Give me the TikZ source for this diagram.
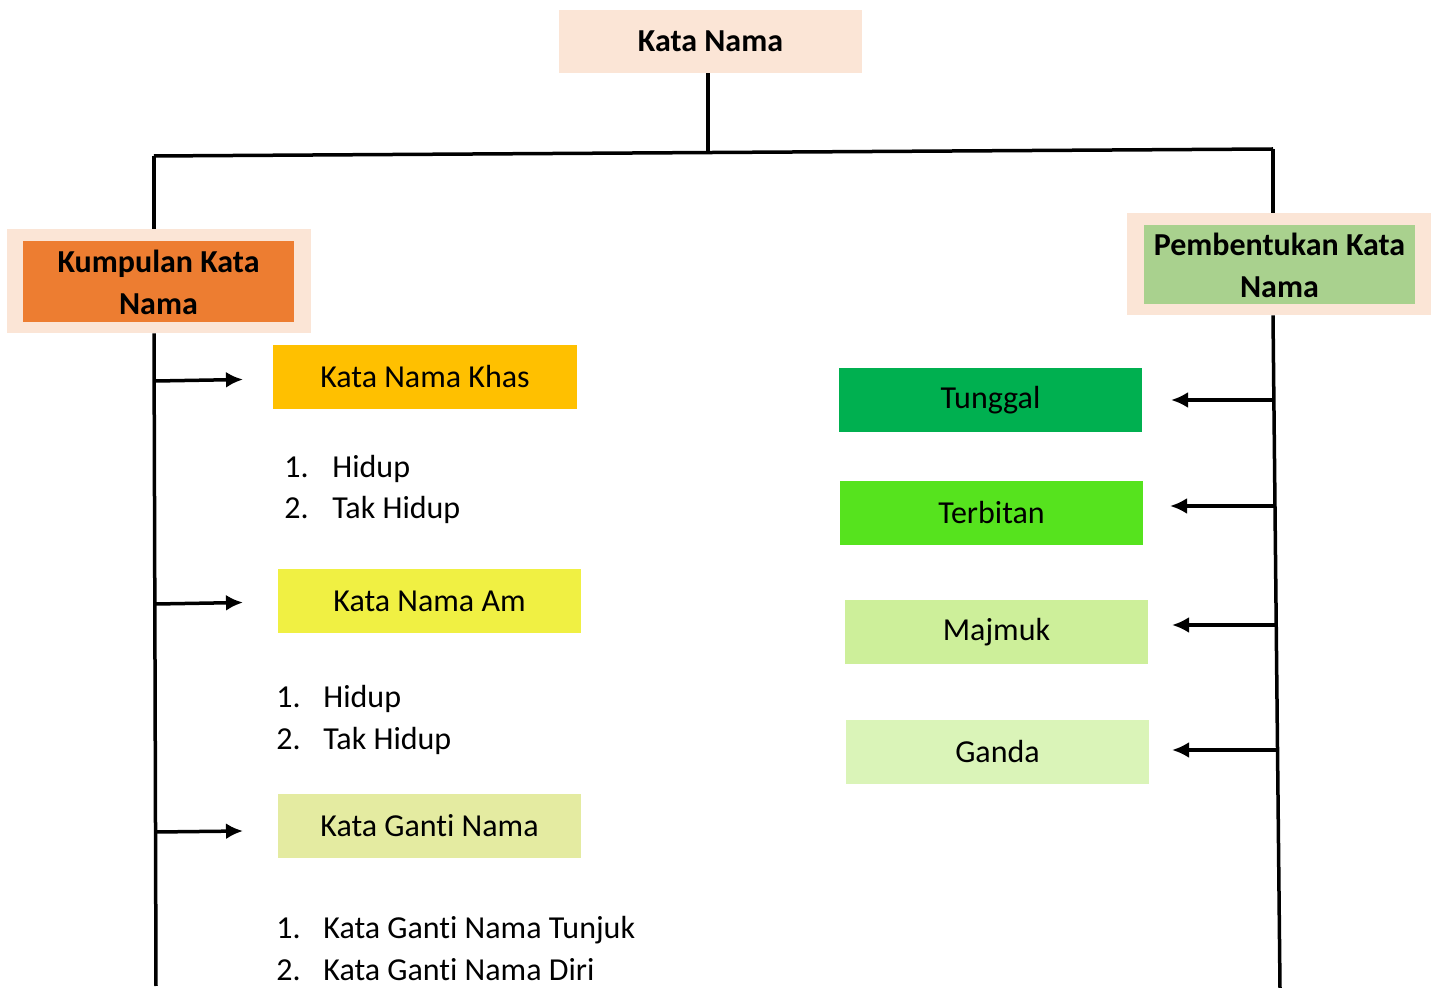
\documentclass[tikz,border=0pt]{standalone}
\usepackage{fontspec}
\setmainfont[RawFeature={-liga}]{Carlito}
\usetikzlibrary{arrows.meta}
\definecolor{peach}{HTML}{FBE5D6}
\definecolor{orangeb}{HTML}{ED7D31}
\definecolor{greenb}{HTML}{A9D18E}
\definecolor{khasc}{HTML}{FFC000}
\definecolor{amc}{HTML}{F0F043}
\definecolor{gantic}{HTML}{E4EBA1}
\definecolor{tunggalc}{HTML}{00B050}
\definecolor{terbitanc}{HTML}{56E31E}
\definecolor{majmukc}{HTML}{CDEF9A}
\definecolor{gandac}{HTML}{DAF4B8}
\tikzset{
  box/.style={inner sep=0pt, minimum width=152pt, minimum height=32pt, align=center,
    font=\fontsize{16}{21}\selectfont},
  bbox/.style={box, font=\fontsize{16}{21}\selectfont\bfseries},
  line/.style={line width=1.75pt},
  arr/.style={line width=1.75pt, -{Latex[length=8.5pt,width=8pt]}},
  item/.style={anchor=base west, inner sep=0pt, font=\fontsize{16}{17}\selectfont},
}
\begin{document}
\begin{tikzpicture}[x=0.5pt,y=-0.5pt]
\useasboundingbox (0,0) rectangle (1437,988);
% top
\node[bbox, fill=peach, minimum width=151.5pt, minimum height=31.5pt] (kn) at (710.5,41.5) {Kata Nama};
% left group
\node[box, fill=peach, minimum width=152pt, minimum height=52pt] (kko) at (159,281) {};
\node[bbox, fill=orangeb, minimum width=135.5pt, minimum height=40.5pt] (kk) at (158.5,282) {Kumpulan Kata\\Nama};
% right group
\node[box, fill=peach, minimum width=152pt, minimum height=51pt] (pko) at (1279,264) {};
\node[bbox, fill=greenb, minimum width=135.5pt, minimum height=39.5pt] (pk) at (1279.5,265) {Pembentukan Kata\\Nama};
% left boxes
\node[box, fill=khasc] (khas) at (425,377) {Kata Nama Khas};
\node[box, fill=amc, minimum width=151.5pt] (am) at (429.5,601) {Kata Nama Am};
\node[box, fill=gantic, minimum width=151.5pt] (ganti) at (429.5,826) {Kata Ganti Nama};
% right boxes
\node[box, fill=tunggalc, minimum width=151.5pt] (tunggal) at (990.5,400) {Tunggal};
\node[box, fill=terbitanc, minimum width=151.5pt] (terbitan) at (991.5,513) {Terbitan};
\node[box, fill=majmukc, minimum width=151.5pt] (majmuk) at (996.5,632) {Majmuk};
\node[box, fill=gandac, minimum width=151.5pt] (ganda) at (997.5,752) {Ganda};
% lists
\node[item] (k1n) at (284,478) {1.};
\node[item] (k1t) at (332,478) {Hidup};
\node[item] (k2n) at (284,519) {2.};
\node[item] (k2t) at (332,519) {Tak Hidup};
\node[item] (a1n) at (276,708) {1.};
\node[item] (a1t) at (323,708) {Hidup};
\node[item] (a2n) at (276,750) {2.};
\node[item] (a2t) at (323,750) {Tak Hidup};
\node[item] (g1n) at (276,939) {1.};
\node[item] (g1t) at (323,939) {Kata Ganti Nama Tunjuk};
\node[item] (g2n) at (276,981) {2.};
\node[item] (g2t) at (323,981) {Kata Ganti Nama Diri};
% connectors
\coordinate (j) at (708,152.5);
\coordinate (tl) at (154,156);
\coordinate (tr) at (1273,149);
\coordinate (lb) at (156,986);
\coordinate (rb) at (1280,988);
\draw[line] (kn.south -| j) -- (j);
\draw[line] (tl) -- (tr);
\draw[line] (tl) -- (tl |- kko.north);
\draw[line] (tr) -- (tr |- pko.north);
\draw[line] (kko.south -| tl) -- (lb);
\draw[line] (pko.south -| tr) -- (rb);
\coordinate (l1) at (156,381);
\coordinate (l2) at (156,604);
\coordinate (l3) at (156,832);
\coordinate (e1) at (243,379.5);
\coordinate (e2) at (243,602.5);
\coordinate (e3) at (243,831);
\draw[arr] (l1) -- (e1);
\draw[arr] (l2) -- (e2);
\draw[arr] (l3) -- (e3);
\coordinate (r1) at (1274,400);
\coordinate (r2) at (1275,506);
\coordinate (r3) at (1276,625);
\coordinate (r4) at (1277,750);
\coordinate (f1) at (1171,400);
\coordinate (f2) at (1170,506);
\coordinate (f3) at (1172,625);
\coordinate (f4) at (1172,750);
\draw[arr] (r1) -- (f1);
\draw[arr] (r2) -- (f2);
\draw[arr] (r3) -- (f3);
\draw[arr] (r4) -- (f4);
\end{tikzpicture}
\end{document}
